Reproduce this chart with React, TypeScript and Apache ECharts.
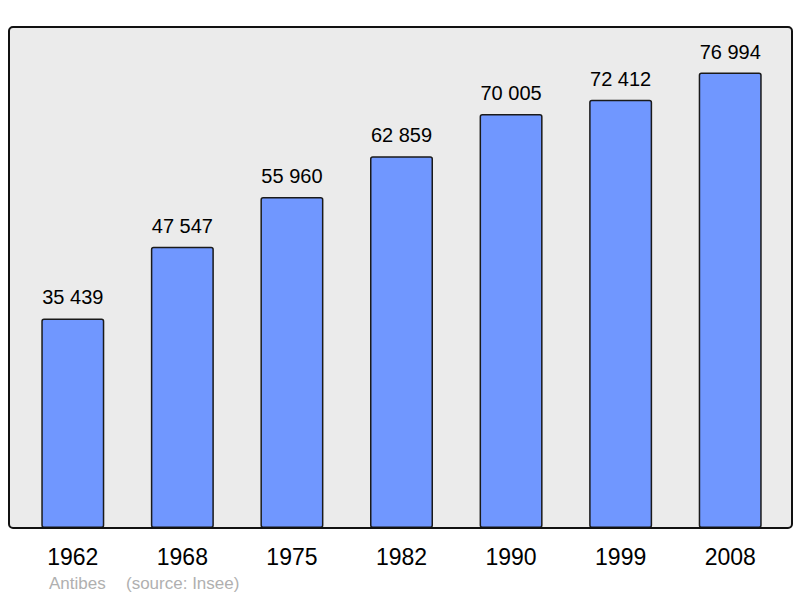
import React, { useEffect, useRef } from "react";
import * as echarts from "echarts";

const years = ["1962", "1968", "1975", "1982", "1990", "1999", "2008"];
const population = [35439, 47547, 55960, 62859, 70005, 72412, 76994];
const footerPlace = "Antibes";
const footerSource = "(source: Insee)";

const fmt = (v: number) => {
  const s = String(Math.round(v));
  return s.replace(/\B(?=(\d{3})+(?!\d))/g, " ");
};

const FONT = "Liberation Sans, Arial, sans-serif";

export default function App() {
  const ref = useRef<HTMLDivElement>(null);
  useEffect(() => {
    if (!ref.current) return;
    const chart = echarts.init(ref.current, null, { renderer: "svg" });
    chart.setOption({
      animation: false,
      textStyle: { fontFamily: FONT },
      grid: { left: 18, right: 15, top: 27, bottom: 70 },
      xAxis: {
        type: "category",
        data: years,
        axisLine: { show: false },
        axisTick: { show: false },
        axisLabel: { color: "#000", fontSize: 23, margin: 17, fontFamily: FONT },
      },
      yAxis: {
        type: "value",
        min: 0,
        max: 84700,
        show: false,
        splitLine: { show: false },
      },
      graphic: [
        {
          type: "rect",
          shape: { x: 9, y: 27, width: 783, height: 501, r: 4 },
          style: { fill: "#ebebeb", stroke: "none" },
          z: -10,
        },
        {
          type: "rect",
          shape: { x: 9, y: 27, width: 783, height: 501, r: 4 },
          style: { fill: "none", stroke: "#111", lineWidth: 2 },
          z: 100,
        },
        {
          type: "text",
          x: 49,
          y: 583,
          style: { text: footerPlace, fill: "#b0b0b0", fontSize: 17, fontFamily: FONT, verticalAlign: "middle" },
        },
        {
          type: "text",
          x: 126,
          y: 583,
          style: { text: footerSource, fill: "#b0b0b0", fontSize: 17, fontFamily: FONT, verticalAlign: "middle" },
        },
      ],
      series: [
        {
          type: "bar",
          data: population,
          barWidth: 63,
          itemStyle: { color: "#7097ff", borderColor: "#1a1a1a", borderWidth: 1.5, borderRadius: 2 },
          label: {
            show: true,
            position: "top",
            distance: 11,
            color: "#000",
            fontSize: 20,
            fontFamily: FONT,
            formatter: (p: any) => fmt(p.value),
          },
        },
      ],
    });
    return () => chart.dispose();
  }, []);
  return <div ref={ref} style={{ width: 800, height: 598, position: "absolute", left: 0, top: 0 }} />;
}
